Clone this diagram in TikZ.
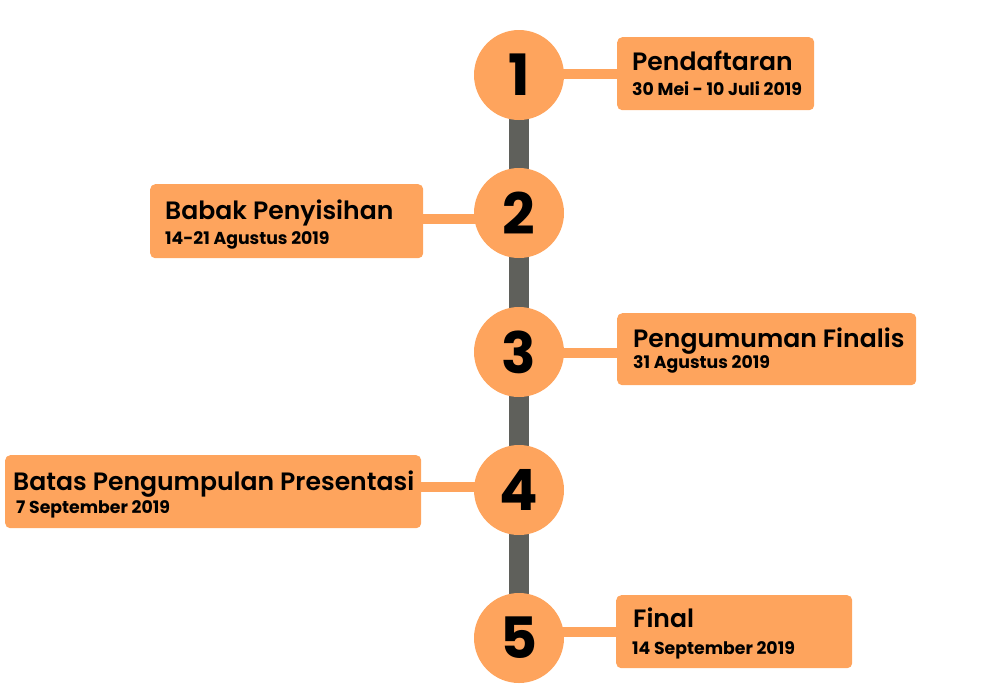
\documentclass[tikz,border=0pt]{standalone}
\usepackage{fontspec}
\setmainfont{Poppins}
\newfontfamily\ttlfont{Poppins SemiBold}
\newfontfamily\boldfont{Poppins Bold}
\usetikzlibrary{backgrounds}
\definecolor{orng}{HTML}{FEA45D}
\definecolor{bargray}{HTML}{5F605B}
\tikzset{
  circ/.style={circle, fill=orng, minimum size=90pt, inner sep=0pt, font=\boldfont\fontsize{57}{57}\selectfont, text=black},
  box/.style={rectangle, fill=orng, rounded corners=5pt, anchor=north west, inner sep=0pt},
  ttl/.style={anchor=base west, inner sep=0pt, font=\ttlfont\fontsize{25.1}{25.1}\selectfont, text=black},
  dte/.style={anchor=base west, inner sep=0pt, font=\boldfont\fontsize{17.3}{17.3}\selectfont, text=black},
  conn/.style={draw=orng, line width=10pt},
  bar/.style={draw=bargray, line width=20pt}
}
\begin{document}
\begin{tikzpicture}[x=1pt,y=-1pt]
\useasboundingbox (0,0) rectangle (1000,683);
% circles
\node[circ] (c1) at (519,75) {1};
\node[circ] (c2) at (519,213) {2};
\node[circ] (c3) at (519,352) {3};
\node[circ] (c4) at (519,490) {4};
\node[circ] (c5) at (519,638) {5};
% boxes
\node[box, minimum width=197pt, minimum height=73pt] (b1) at (617,37) {};
\node[box, minimum width=273pt, minimum height=74pt] (b2) at (150,184) {};
\node[box, minimum width=299pt, minimum height=72pt] (b3) at (617,313) {};
\node[box, minimum width=416pt, minimum height=73pt] (b4) at (5,455) {};
\node[box, minimum width=236pt, minimum height=73pt] (b5) at (616,595) {};
% texts
\node[ttl] (t1) at (632,70) {Pendaftaran};
\node[dte] (d1) at (632,95) {30 Mei - 10 Juli 2019};
\node[ttl] (t2) at (165,219) {Babak Penyisihan};
\node[dte] (d2) at (165,244) {14-21 Agustus 2019};
\node[ttl] (t3) at (633,347) {Pengumuman Finalis};
\node[dte] (d3) at (633,368) {31 Agustus 2019};
\node[ttl] (t4) at (13,490) {Batas Pengumpulan Presentasi};
\node[dte] (d4) at (16,513) {7 September 2019};
\node[ttl] (t5) at (633,627) {Final};
\node[dte] (d5) at (632,654) {14 September 2019};
\begin{scope}[on background layer]
\draw[bar] (c1.center) -- (c5.center);
\draw[conn] (c1.center |- b1.center) -- (b1.center);
\draw[conn] ([yshift=2pt]c2.center |- b2.center) -- ([yshift=2pt]b2.center);
\draw[conn] ([yshift=-4pt]c3.center |- b3.center) -- ([yshift=-4pt]b3.center);
\draw[conn] ([yshift=5pt]c4.center |- b4.center) -- ([yshift=5pt]b4.center);
\draw[conn] (c5.center |- b5.center) -- (b5.center);
\end{scope}
\end{tikzpicture}
\end{document}
